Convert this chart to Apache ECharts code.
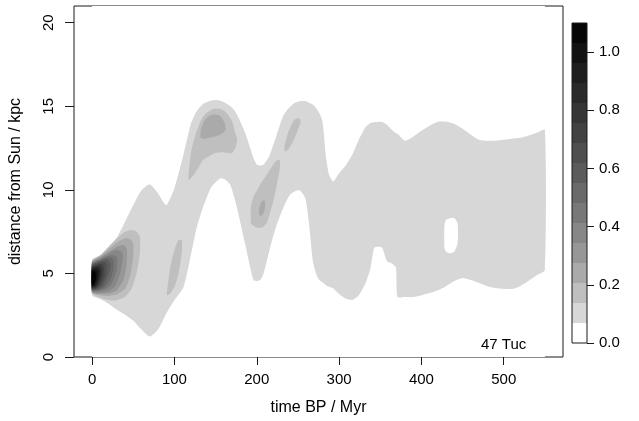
<!DOCTYPE html>
<html>
<head>
<meta charset="utf-8">
<script src="https://cdn.jsdelivr.net/npm/echarts@6/dist/echarts.min.js"></script>
<style>
  html, body { margin: 0; padding: 0; background: #fff; }
  #chart { width: 639px; height: 421px; }
</style>
</head>
<body>
<div id="chart"></div>
<script>
// Colour key: 16 density bands from 0 to 1.1
const levelBreaks = [0, 0.06875, 0.1375, 0.20625, 0.275, 0.34375, 0.4125, 0.48125, 0.55,
  0.61875, 0.6875, 0.75625, 0.825, 0.89375, 0.9625, 1.03125, 1.1];
const levelColors = ['#ffffff', '#d7d7d7', '#bfbfbf', '#aaaaaa', '#979797', '#878787', '#787878',
  '#6a6a6a', '#5c5c5c', '#4f4f4f', '#424242', '#363636', '#2a2a2a', '#1e1e1e', '#121212', '#050505'];

const timeTicks = [0, 100, 200, 300, 400, 500];
const distTicks = [0, 5, 10, 15, 20];
const keyTicks = [0, 0.2, 0.4, 0.6, 0.8, 1.0];

// Each region: rows of [time BP (Myr), lower distance (kpc), upper distance (kpc)]
const fieldDomain = [[0, 0, 21], [550, 0, 21]];

const envelope = [
  [0, 3.70, 5.84], [10, 3.47, 6.02], [20, 3.18, 6.49], [30, 2.82, 7.14], [40, 2.53, 8.09],
  [50, 2.17, 9.09], [60, 1.64, 9.98], [70, 1.22, 10.34], [80, 1.64, 9.80], [90, 2.59, 9.09],
  [100, 3.41, 10.1], [111, 4.18, 12.1], [120, 6.1, 13.95], [127, 7.73, 14.7], [135, 9.0, 15.15],
  [144, 10.1, 15.33], [150, 10.45, 15.37], [156, 10.69, 15.33], [162, 10.6, 15.2], [168, 10.28, 15.0],
  [173, 9.5, 14.75], [178, 8.5, 14.3], [186, 6.73, 13.4], [192, 5.37, 12.5], [196, 4.6, 11.9],
  [200, 4.54, 11.52], [204, 4.6, 11.45], [208, 4.95, 11.5], [215, 6.3, 12.0], [223, 7.73, 13.1],
  [232, 8.9, 14.4], [240, 9.69, 14.95], [246, 9.9, 15.2], [252, 9.98, 15.3], [259, 9.51, 15.31],
  [264, 7.73, 15.2], [268, 5.78, 15.1], [272, 5.0, 14.9], [276, 4.6, 14.6], [280, 4.45, 14.07],
  [284, 4.3, 12.0], [288, 4.2, 10.87], [293, 4.1, 10.5], [300, 3.77, 10.99], [308, 3.5, 11.45],
  [316, 3.41, 12.1], [324, 3.7, 13.0], [332, 4.4, 13.75], [338, 5.3, 14.0], [343, 6.55, 14.05],
  [352, 6.55, 14.07], [358, 5.75, 13.9], [364, 5.6, 13.6], [369, 5.37, 13.4], [371, 3.59, 13.35],
  [380, 3.59, 12.94], [390, 3.59, 13.18], [400, 3.7, 13.53], [410, 3.83, 13.83], [420, 4.0, 14.07],
  [430, 4.24, 14.07], [440, 4.54, 13.95], [450, 4.72, 13.65], [460, 4.6, 13.3], [470, 4.42, 13.0],
  [480, 4.24, 12.94], [490, 4.13, 12.94], [500, 4.07, 13.0], [510, 4.07, 13.06], [520, 4.24, 13.12],
  [530, 4.54, 13.24], [540, 4.89, 13.41], [550, 5.2, 13.59]
];

const gapNear440 = [[428, 6.5, 7.9], [430, 6.3, 8.2], [435, 6.2, 8.3], [440, 6.3, 8.3], [444, 6.8, 8.0]];

const blob100 = [[91, 3.7, 3.9], [95, 3.8, 5.4], [100, 4.2, 6.4], [105, 5.0, 7.0], [109, 6.3, 7.0]];
const hump150 = [[117, 10.6, 10.8], [120, 10.7, 12.2], [125, 11.0, 13.2], [130, 11.4, 13.9],
  [135, 11.8, 14.4], [140, 11.95, 14.65], [145, 12.1, 14.8], [150, 12.2, 14.85], [155, 12.25, 14.85],
  [160, 12.25, 14.75], [165, 12.2, 14.5], [170, 12.2, 14.1], [174, 12.5, 13.4], [176, 12.9, 13.1]];
const hump150Core = [[132, 13.1, 13.6], [136, 13.05, 14.1], [140, 13.1, 14.35], [145, 13.15, 14.5],
  [150, 13.2, 14.5], [155, 13.3, 14.45], [160, 13.45, 14.1], [162, 13.6, 13.85]];
const hump250 = [[234, 12.3, 12.7], [238, 12.4, 13.4], [242, 12.7, 13.9], [246, 13.1, 14.2],
  [250, 13.6, 14.3], [253, 14.0, 14.2]];
const ridge205 = [[193, 8.0, 9.0], [196, 7.85, 9.6], [200, 7.75, 9.95], [204, 7.73, 10.3],
  [208, 7.8, 10.6], [212, 8.0, 10.9], [216, 8.6, 11.2], [220, 9.3, 11.5], [224, 10.2, 11.75], [228, 11.3, 11.8]];
const ridge205Core = [[203, 8.5, 8.9], [206, 8.45, 9.3], [209, 8.7, 9.4], [210, 9.0, 9.3]];

// nested contours of the present-day peak, leaning towards larger distances
const peakL2 = [[0, 3.8, 5.78], [10, 3.55, 6.1], [20, 3.4, 6.6], [30, 3.4, 7.1], [40, 3.6, 7.5], [48, 4.1, 7.6], [54, 5.0, 7.5], [58, 6.2, 7.2]];
const peakL3 = [[0, 3.85, 5.72], [10, 3.7, 6.05], [20, 3.65, 6.45], [30, 3.75, 6.85], [40, 4.1, 7.1], [46, 4.8, 7.05], [50, 6.0, 6.8]];
const peakL4 = [[0, 3.88, 5.68], [10, 3.78, 5.98], [20, 3.8, 6.3], [30, 4.0, 6.6], [38, 4.6, 6.7], [42, 5.6, 6.5]];
const peakL5 = [[0, 3.92, 5.64], [10, 3.85, 5.9], [20, 3.95, 6.2], [28, 4.25, 6.4], [34, 5.0, 6.35], [37, 5.8, 6.2]];
const peakL6 = [[0, 3.95, 5.6], [8, 3.95, 5.8], [16, 4.05, 6.0], [24, 4.4, 6.1], [30, 5.2, 6.0]];
const peakL7 = [[0, 4.0, 5.55], [8, 4.0, 5.75], [15, 4.15, 5.9], [22, 4.6, 5.95], [26, 5.3, 5.8]];
const peakL8 = [[0, 4.03, 5.5], [7, 4.05, 5.68], [14, 4.25, 5.8], [19, 4.8, 5.8], [22, 5.3, 5.6]];
const peakL9 = [[0, 4.07, 5.45], [6, 4.1, 5.6], [12, 4.35, 5.7], [17, 4.9, 5.6]];
const peakL10 = [[0, 4.1, 5.4], [6, 4.15, 5.52], [11, 4.45, 5.58], [14, 4.95, 5.4]];
const peakL11 = [[0, 4.13, 5.35], [5, 4.2, 5.45], [9, 4.5, 5.48], [12, 4.95, 5.3]];
const peakL12 = [[0, 4.17, 5.3], [5, 4.25, 5.38], [8, 4.55, 5.38], [10, 4.95, 5.2]];
const peakL13 = [[0, 4.2, 5.25], [4, 4.3, 5.3], [7, 4.6, 5.28], [8.5, 4.9, 5.15]];
const peakL14 = [[0, 4.25, 5.2], [3, 4.35, 5.2], [6, 4.7, 5.15]];
const peakL15 = [[0, 4.3, 5.12], [2.5, 4.4, 5.12], [4.5, 4.7, 5.0]];

// [colour band, region], painted in this order
const regions = [
  [0, fieldDomain], [1, envelope], [0, gapNear440],
  [2, blob100], [2, hump150], [3, hump150Core], [2, hump250], [2, ridge205], [3, ridge205Core],
  [2, peakL2], [3, peakL3], [4, peakL4], [5, peakL5], [6, peakL6], [7, peakL7], [8, peakL8],
  [9, peakL9], [10, peakL10], [11, peakL11], [12, peakL12], [13, peakL13], [14, peakL14], [15, peakL15]
];

const FONT = '"Liberation Sans", Arial, Helvetica, sans-serif';
const INK = '#1a1a1a';

const chart = echarts.init(document.getElementById('chart'), null, { renderer: 'canvas' });

chart.setOption({
  animation: false,
  backgroundColor: '#fff',
  textStyle: { fontFamily: FONT },
  title: {
    text: '47 Tuc', left: 476, top: 332,
    textStyle: { fontFamily: FONT, fontSize: 15, fontWeight: 'normal', color: '#000' }
  },
  grid: [
    { left: 70, top: 6, width: 493, height: 355, show: true, borderColor: INK, borderWidth: 1, backgroundColor: 'transparent' },
    { left: 572, top: 23, width: 15, height: 320, show: true, borderColor: INK, borderWidth: 1, backgroundColor: 'transparent', z: 5 }
  ],
  xAxis: [
    {
      gridIndex: 0, type: 'value', min: -22, max: 572, position: 'bottom',
      name: 'time BP / Myr', nameLocation: 'middle', nameGap: 43,
      nameTextStyle: { fontFamily: FONT, fontSize: 16, color: '#000' },
      axisLine: { show: false, onZero: false },
      axisTick: { show: true, length: 8, customValues: timeTicks, lineStyle: { color: INK } },
      axisLabel: { customValues: timeTicks, fontFamily: FONT, fontSize: 15, color: '#000', margin: 15 },
      splitLine: { show: false }
    },
    { gridIndex: 1, type: 'value', min: 0, max: 1, show: false }
  ],
  yAxis: [
    {
      gridIndex: 0, type: 'value', min: 0, max: 21, position: 'left',
      name: 'distance from Sun / kpc', nameLocation: 'middle', nameGap: 50, nameRotate: 90,
      nameTextStyle: { fontFamily: FONT, fontSize: 16, color: '#000' },
      axisLine: { show: false, onZero: false },
      axisTick: { show: true, length: 9, customValues: distTicks, lineStyle: { color: INK } },
      axisLabel: { customValues: distTicks, rotate: 90, fontFamily: FONT, fontSize: 15, color: '#000', margin: 18 },
      splitLine: { show: false }
    },
    {
      gridIndex: 1, type: 'value', min: 0, max: 1.1, position: 'right',
      axisLine: { show: false, onZero: false },
      axisTick: { show: true, length: 7, customValues: keyTicks, lineStyle: { color: INK } },
      axisLabel: {
        customValues: keyTicks, fontFamily: FONT, fontSize: 15, color: '#000', margin: 12,
        formatter: v => v.toFixed(1)
      },
      splitLine: { show: false }
    }
  ],
  series: [
    {
      type: 'custom', xAxisIndex: 0, yAxisIndex: 0, silent: true,
      data: regions.map((r, i) => [i]),
      encode: { x: 0 },
      renderItem(params, api) {
        const band = regions[params.dataIndex][0];
        const rows = regions[params.dataIndex][1];
        const pts = rows.map(r => api.coord([r[0], r[1]]));
        for (let i = rows.length - 1; i >= 0; i--) pts.push(api.coord([rows[i][0], rows[i][2]]));
        const smooth = params.dataIndex === 0 ? 0 : 0.2;
        return { type: 'polygon', shape: { points: pts, smooth: smooth },
          style: { fill: levelColors[band], stroke: null } };
      }
    },
    {
      type: 'custom', xAxisIndex: 1, yAxisIndex: 1, silent: true,
      data: levelColors.map((c, i) => [i]),
      encode: { x: 0 },
      renderItem(params, api) {
        const i = params.dataIndex;
        const p0 = api.coord([0, levelBreaks[i + 1]]);
        const p1 = api.coord([1, levelBreaks[i]]);
        return { type: 'rect', shape: { x: p0[0], y: p0[1], width: p1[0] - p0[0], height: p1[1] - p0[1] },
          style: { fill: levelColors[i], stroke: null } };
      }
    }
  ]
});
</script>
</body>
</html>
